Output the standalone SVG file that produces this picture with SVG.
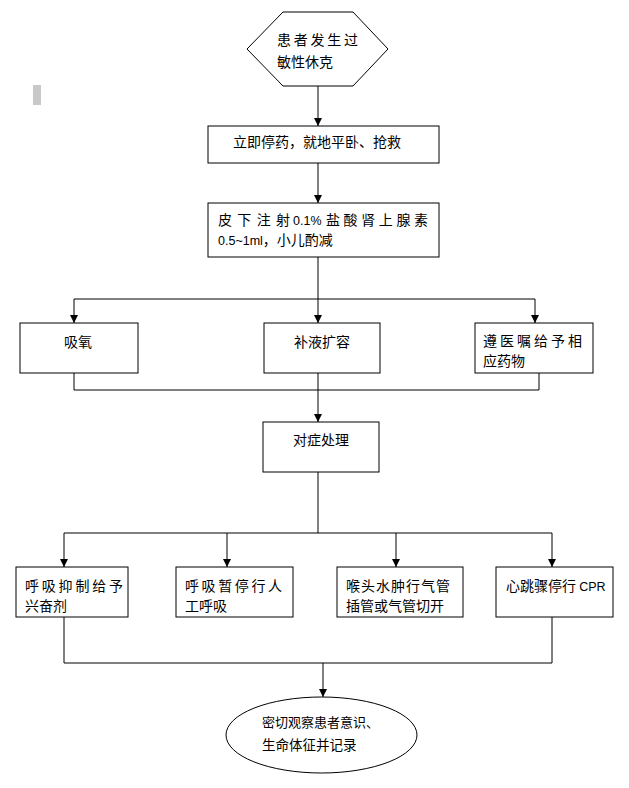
<svg xmlns="http://www.w3.org/2000/svg" width="629" height="788" viewBox="0 0 629 788">
<style>
.n{fill:#fff;stroke:#000;stroke-width:1}
.t{font-family:"Noto Sans CJK SC","Liberation Sans",sans-serif;font-size:14px;fill:#000}
.s{font-family:"Liberation Sans",sans-serif;font-size:12.5px}
.c{fill:none;stroke:#000;stroke-width:1}
</style>
<defs>
<marker id="ah" markerUnits="userSpaceOnUse" markerWidth="8" markerHeight="8" refX="8" refY="4" orient="auto">
<path d="M0,0 L8,4 L0,8 z" fill="#000"/>
</marker>
</defs>
<rect x="33" y="85" width="8" height="20" fill="#c8c8c8"/>
<g id="connectors">
<path class="c" d="M318,86 V126" marker-end="url(#ah)"/>
<path class="c" d="M318,163 V203" marker-end="url(#ah)"/>
<path class="c" d="M318,257 V299 M74,299 H535"/>
<path class="c" d="M74,299 V323" marker-end="url(#ah)"/>
<path class="c" d="M318,299 V323" marker-end="url(#ah)"/>
<path class="c" d="M535,299 V323" marker-end="url(#ah)"/>
<path class="c" d="M74,373 V390 H539 V373"/>
<path class="c" d="M318,373 V422" marker-end="url(#ah)"/>
<path class="c" d="M318,472 V533 M64,533 H552"/>
<path class="c" d="M64,533 V567" marker-end="url(#ah)"/>
<path class="c" d="M227,533 V567" marker-end="url(#ah)"/>
<path class="c" d="M396,533 V567" marker-end="url(#ah)"/>
<path class="c" d="M552,533 V567" marker-end="url(#ah)"/>
<path class="c" d="M64,617 V663 H552 V617"/>
<path class="c" d="M323,663 V697" marker-end="url(#ah)"/>
</g>
<g id="start">
<polygon class="n" points="247,49 283,12 353,12 388,49 353,86 283,86"/>
<text class="t" x="277" y="45" textLength="81" lengthAdjust="spacing">患者发生过</text>
<text class="t" x="277" y="67">敏性休克</text>
</g>
<g id="stop">
<rect class="n" x="208" y="126" width="231" height="37"/>
<text class="t" x="233" y="147">立即停药，就地平卧、抢救</text>
</g>
<g id="inject">
<rect class="n" x="208" y="203" width="231" height="54"/>
<text class="t" x="218" y="225" textLength="72" lengthAdjust="spacing">皮下注射</text>
<text class="s" x="293" y="225">0.1%</text>
<text class="t" x="326" y="225" textLength="102" lengthAdjust="spacing">盐酸肾上腺素</text>
<text class="t" x="218" y="245"><tspan class="s">0.5~1ml</tspan>，小儿酌减</text>
</g>
<g id="oxygen">
<rect class="n" x="20" y="323" width="118" height="50"/>
<text class="t" x="64" y="347">吸氧</text>
</g>
<g id="fluid">
<rect class="n" x="264" y="323" width="116" height="50"/>
<text class="t" x="294" y="347">补液扩容</text>
</g>
<g id="drugs">
<rect class="n" x="475" y="323" width="118" height="50"/>
<text class="t" x="483" y="346" textLength="99" lengthAdjust="spacing">遵医嘱给予相</text>
<text class="t" x="483" y="366">应药物</text>
</g>
<g id="symptom">
<rect class="n" x="263" y="422" width="116" height="50"/>
<text class="t" x="293" y="445">对症处理</text>
</g>
<g id="resp-suppress">
<rect class="n" x="16" y="567" width="112" height="50"/>
<text class="t" x="25" y="591" textLength="98" lengthAdjust="spacing">呼吸抑制给予</text>
<text class="t" x="25" y="611">兴奋剂</text>
</g>
<g id="resp-stop">
<rect class="n" x="176" y="567" width="117" height="50"/>
<text class="t" x="185" y="591" textLength="97" lengthAdjust="spacing">呼吸暂停行人</text>
<text class="t" x="185" y="611">工呼吸</text>
</g>
<g id="larynx">
<rect class="n" x="337" y="567" width="126" height="50"/>
<text class="t" x="346" y="591" textLength="104" lengthAdjust="spacing">喉头水肿行气管</text>
<text class="t" x="346" y="611">插管或气管切开</text>
</g>
<g id="cardiac">
<rect class="n" x="496" y="567" width="117" height="50"/>
<text class="t" x="506" y="591">心跳骤停行 <tspan class="s">CPR</tspan></text>
</g>
<g id="observe">
<ellipse class="n" cx="321.5" cy="735" rx="95.5" ry="38"/>
<text class="t" x="262" y="727" style="font-size:13px">密切观察患者意识、</text>
<text class="t" x="262" y="750" style="font-size:13.5px">生命体征并记录</text>
</g>
</svg>
